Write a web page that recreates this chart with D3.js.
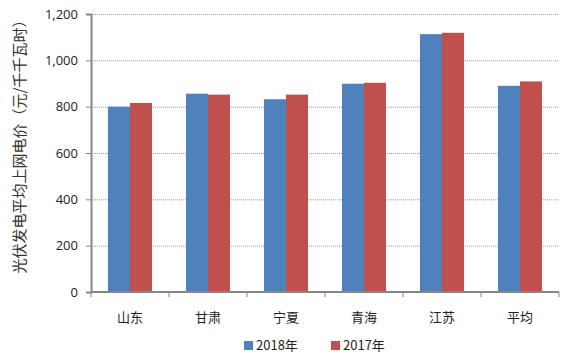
<!DOCTYPE html>
<html><head><meta charset="utf-8">
<script src="https://cdn.jsdelivr.net/npm/d3@7"></script>
<style>body{margin:0;background:#fff;}svg{display:block;}</style>
</head><body>
<svg id="c" width="569" height="363"></svg>
<script>
const categories = ["山东","甘肃","宁夏","青海","江苏","平均"];
const series2018 = [800, 856, 832, 899, 1113, 890];
const series2017 = [816, 852, 852, 903, 1119, 909];
const seriesNames = ["2018年","2017年"];
const yTicks = [0,200,400,600,800,1000,1200];
const colors = ["#4F81BD","#C0504D"];

(function(){
const svg = d3.select("#c");
const mLeft = 91, mRight = 559, mTop = 14, mBottom = 292;
const x = d3.scaleBand().domain(categories).range([mLeft, mRight]).paddingInner(0).paddingOuter(0);
const xs = d3.scaleBand().domain(seriesNames).range([0, x.bandwidth()]).paddingInner(0).paddingOuter(0.77);
const y = d3.scaleLinear().domain([0,1200]).range([mBottom, mTop]);
const fmt = d3.format(",");
const cjk = "'Noto Sans CJK SC', sans-serif";
const latin = "'Open Sans', 'Liberation Sans', sans-serif";

// gridlines
svg.append("g").selectAll("line").data(yTicks.filter(d=>d>0)).join("line")
  .attr("x1", mLeft).attr("x2", mRight).attr("y1", d=>y(d)+0.5).attr("y2", d=>y(d)+0.5)
  .attr("stroke", "#9a9a9a").attr("stroke-width", 1).attr("stroke-dasharray", "1,1");

// bars
const data = categories.map((c,i)=>({c, vals:[series2018[i], series2017[i]]}));
const g = svg.append("g").selectAll("g").data(data).join("g")
  .attr("transform", d=>`translate(${x(d.c)},0)`);
g.selectAll("rect").data(d=>d.vals.map((v,j)=>({v, s:seriesNames[j], j}))).join("rect")
  .attr("x", d=>xs(d.s)).attr("width", xs.bandwidth())
  .attr("y", d=>y(d.v)).attr("height", d=>y(0)-y(d.v))
  .attr("fill", d=>colors[d.j]);

// y axis
const ya = svg.append("g").attr("transform", `translate(${mLeft},0)`)
  .call(d3.axisLeft(y).tickValues(yTicks).tickFormat(fmt).tickSize(5).tickPadding(8));
ya.select(".domain").attr("stroke", "#868686").attr("stroke-width", 2);
ya.selectAll(".tick line").attr("stroke", "#868686");
ya.selectAll("text").attr("font-family", latin).attr("font-size", 13).attr("fill", "#222");

// x axis
const xa = svg.append("g").attr("transform", `translate(0,${mBottom})`);
xa.append("line").attr("x1", mLeft).attr("x2", mRight).attr("y1",0).attr("y2",0)
  .attr("stroke", "#868686").attr("stroke-width", 2);
const bounds = categories.map(c=>x(c)).concat([x(categories[categories.length-1])+x.bandwidth()]);
xa.selectAll("line.t").data(bounds).join("line").attr("class","t")
  .attr("x1", d=>d).attr("x2", d=>d).attr("y1", 0).attr("y2", 5)
  .attr("stroke", "#868686");
xa.selectAll("text.c").data(categories).join("text").attr("class","c")
  .attr("x", d=>x(d)+x.bandwidth()/2).attr("y", 30)
  .attr("text-anchor","middle").attr("font-family", cjk).attr("font-size", 13).attr("fill","#222")
  .text(d=>d);

// y label
svg.append("text").attr("transform", `translate(25,143) rotate(-90)`)
  .attr("text-anchor","middle").attr("font-family", cjk).attr("font-size", 15).attr("fill","#333")
  .text("光伏发电平均上网电价（元/千千瓦时）");

// legend
const leg = svg.append("g");
const legX = [244, 331];
seriesNames.forEach((s,i)=>{
  leg.append("rect").attr("x", legX[i]).attr("y", 341).attr("width", 9).attr("height", 9).attr("fill", colors[i]);
  leg.append("text").attr("x", legX[i]+12).attr("y", 350).attr("font-family", cjk).attr("font-size", 13).attr("fill","#222").text(s);
});
})();
</script>
</body></html>
